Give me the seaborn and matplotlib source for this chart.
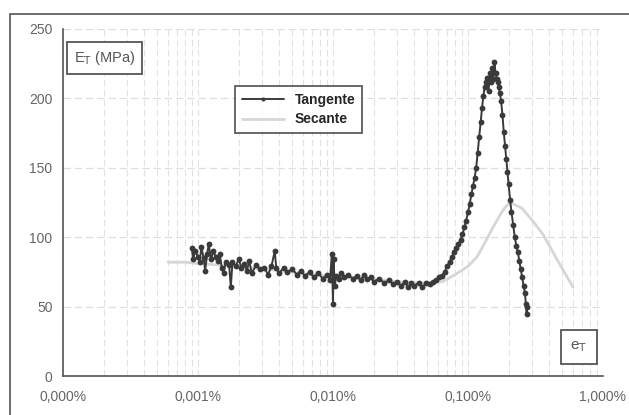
import matplotlib
matplotlib.use("Agg")
import matplotlib.pyplot as plt
import matplotlib.ticker as mticker
from matplotlib.patches import Rectangle
import seaborn as sns
import pandas as pd

# ---- data (strain in %, modulus in MPa) ----
tan_x = [0.00090, 0.00092, 0.00095, 0.00100, 0.00103, 0.00106, 0.00110, 0.00113, 0.00117, 0.00120,
         0.00125, 0.00130, 0.00135, 0.00140, 0.00145, 0.00150, 0.00155, 0.00160, 0.00170, 0.00175,
         0.00180, 0.00190, 0.00200, 0.00210, 0.00220, 0.00230, 0.00240, 0.00250, 0.00270, 0.00290,
         0.00310, 0.00330, 0.00350, 0.00370, 0.00380, 0.00400, 0.00430, 0.00460, 0.00500, 0.00540,
         0.00580, 0.00620, 0.00670, 0.00720, 0.00780, 0.00840, 0.00900, 0.00950, 0.00980, 0.01000,
         0.01010, 0.01030, 0.01060, 0.01100, 0.0115, 0.012, 0.013, 0.014, 0.015, 0.016,
         0.017, 0.018, 0.019, 0.020, 0.022, 0.024, 0.026, 0.028, 0.030, 0.032,
         0.034, 0.036, 0.038, 0.040, 0.043, 0.046, 0.049, 0.052, 0.055, 0.058,
         0.061, 0.064, 0.067, 0.070, 0.073, 0.076, 0.079, 0.082, 0.085, 0.088,
         0.091, 0.094, 0.097, 0.100, 0.103, 0.106, 0.109, 0.112, 0.115, 0.118,
         0.121, 0.124, 0.127, 0.130, 0.133, 0.136, 0.139, 0.142, 0.145, 0.148,
         0.151, 0.154, 0.157, 0.160, 0.163, 0.166, 0.169, 0.172, 0.176, 0.180,
         0.184, 0.188, 0.192, 0.196, 0.200, 0.205, 0.210, 0.216, 0.222, 0.228,
         0.234, 0.240, 0.246, 0.252, 0.258, 0.264, 0.268, 0.272, 0.274]
tan_y = [92, 84, 90, 86, 82, 93, 85, 76, 88, 95,
         84, 90, 86, 83, 88, 78, 74, 82, 80, 64,
         82, 79, 84, 78, 81, 76, 83, 74, 80, 77,
         78, 73, 79, 90, 78, 74, 78, 75, 77, 73,
         76, 72, 75, 71, 74, 70, 73, 69, 88, 52,
         84, 65, 72, 70, 74, 71, 73, 70, 72, 69,
         73, 70, 71, 68, 70, 67, 69, 66, 68, 65,
         68, 64, 67, 65, 67, 64, 67, 66, 68, 69,
         71, 72, 75, 79, 82, 86, 89, 92, 95, 98,
         102, 107, 112, 118, 124, 131, 137, 143, 150, 161,
         172, 183, 193, 202, 208, 212, 215, 205, 218, 212,
         222, 214, 226, 218, 214, 212, 208, 204, 198, 188,
         176, 166, 156, 147, 138, 127, 118, 109, 100, 94,
         89, 83, 77, 71, 65, 60, 52, 45, 50]

sec_x = [0.0006, 0.0008, 0.001, 0.002, 0.004, 0.007, 0.01, 0.02, 0.03, 0.045,
         0.065, 0.08, 0.1, 0.117, 0.135, 0.153, 0.175, 0.19, 0.205, 0.25,
         0.3, 0.36, 0.45, 0.53, 0.6]
sec_y = [82, 82, 81, 79, 76, 73, 72, 70, 68, 67,
         68, 73, 79, 86, 97, 107, 117, 122, 125, 121,
         112, 102, 85, 73, 64]

x_ticks = [0.0001, 0.001, 0.01, 0.1, 1.0]
x_tick_labels = ["0,000%", "0,001%", "0,010%", "0,100%", "1,000%"]
y_ticks = [0, 50, 100, 150, 200, 250]

sns.set_style("white")
plt.rcParams['font.family'] = ['Liberation Sans', 'DejaVu Sans']

fig = plt.figure(figsize=(6.29, 4.15), dpi=100)
fig.patches.append(Rectangle((10/629, -0.05), 1.2, 1.05 - 14/415, transform=fig.transFigure,
                             fill=False, edgecolor="#555555", linewidth=1.2))
ax = fig.add_axes([63/629, 1 - 376/415, 540/629, 347/415])

df_t = pd.DataFrame({"x": tan_x, "y": tan_y})
df_s = pd.DataFrame({"x": sec_x, "y": sec_y})

sns.lineplot(data=df_s, x="x", y="y", ax=ax, sort=False, estimator=None,
             color="#d6d6d6", linewidth=2.0, label="Secante", zorder=2)
sns.lineplot(data=df_t, x="x", y="y", ax=ax, sort=False, estimator=None,
             color="#3a3a3a", linewidth=1.4, marker="o", markersize=4.2,
             markeredgewidth=0, label="Tangente", zorder=3)

ax.set_xscale("log")
ax.set_xlim(0.0001, 1.0)
ax.set_ylim(0, 250)
ax.set_xticks(x_ticks)
ax.set_xticklabels(x_tick_labels)
ax.set_yticks(y_ticks)
ax.xaxis.set_minor_locator(mticker.LogLocator(base=10, subs=range(2, 10), numticks=50))
ax.xaxis.set_minor_formatter(mticker.NullFormatter())
ax.grid(True, which="major", axis="y", color="#dedede", linestyle=(0, (6, 3)), linewidth=0.9)
ax.grid(True, which="both", axis="x", color="#e2e2e2", linestyle=(0, (6, 3)), linewidth=0.8)
ax.set_axisbelow(True)
ax.set_xlabel("")
ax.set_ylabel("")

for s in ["top", "right"]:
    ax.spines[s].set_visible(False)
for s in ["left", "bottom"]:
    ax.spines[s].set_color("#555555")
    ax.spines[s].set_linewidth(1.2)
ax.tick_params(axis="both", which="major", direction="out", length=4, width=1,
               color="#555555", labelcolor="#666666", labelsize=10)
ax.tick_params(axis="x", which="minor", length=0)
ax.tick_params(axis="x", pad=6)

# legend
h, l = ax.get_legend_handles_labels()
order = [l.index("Tangente"), l.index("Secante")]
leg = ax.legend([h[i] for i in order], [l[i] for i in order],
                loc="upper left", bbox_to_anchor=((228 - 63) / 540, (376 - 79) / 347),
                frameon=True, fancybox=False, edgecolor="#333333", fontsize=10,
                prop={"weight": "bold", "size": 10}, handlelength=3.0, borderpad=0.5,
                labelspacing=0.4, markerscale=0.7)
leg.get_frame().set_linewidth(1.3)

ax.text((74 - 63) / 540, (376 - 58) / 347, "E$_\\mathrm{T}$ (MPa)", transform=ax.transAxes,
        ha="left", va="center", fontsize=10.5, color="#555555",
        bbox=dict(boxstyle="square,pad=0.45", fc="white", ec="#555555", lw=1.3))
ax.text((579 - 63) / 540, (376 - 347) / 347, "e$_\\mathrm{T}$", transform=ax.transAxes,
        ha="center", va="center", fontsize=11, color="#555555",
        bbox=dict(boxstyle="square,pad=0.6", fc="white", ec="#555555", lw=1.3))

fig.savefig("out.png", dpi=100)
